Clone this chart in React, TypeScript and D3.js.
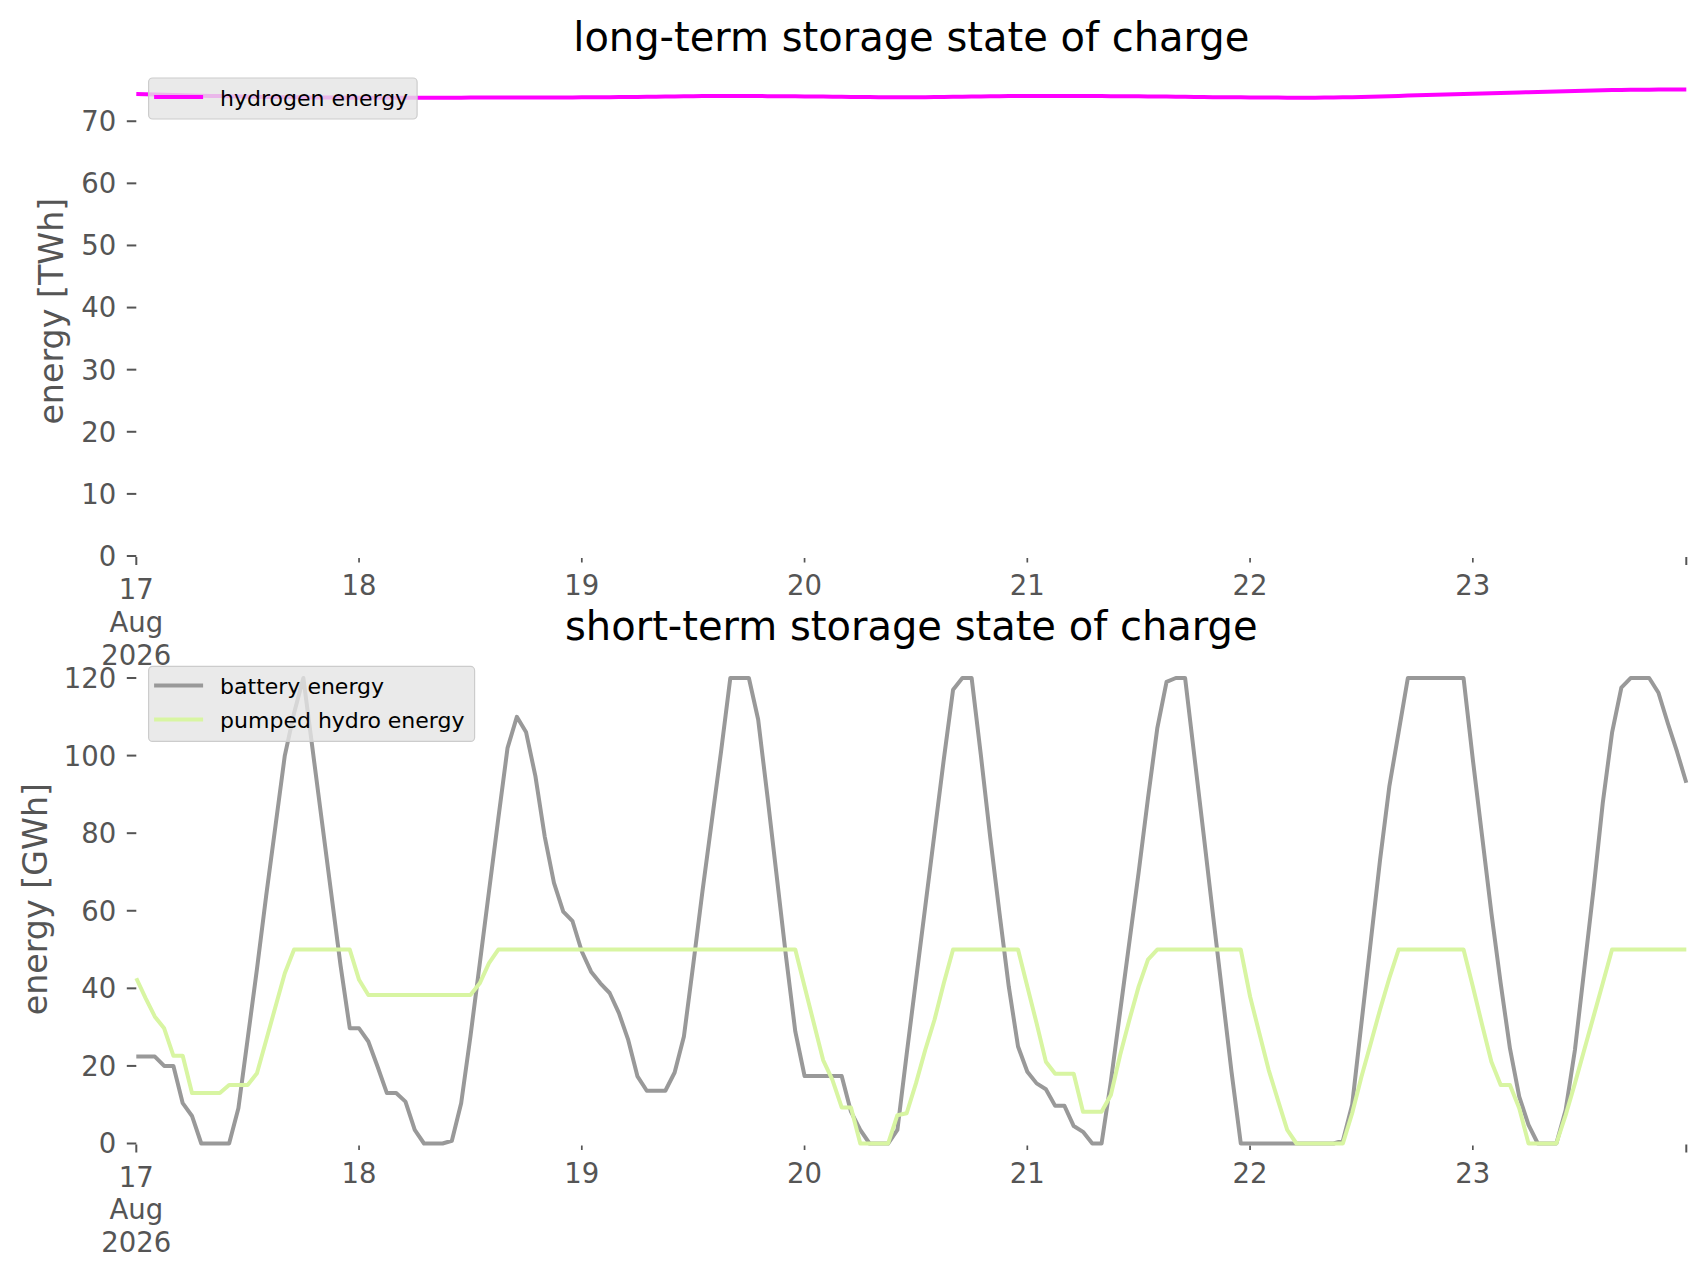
import React from "react";
import * as d3 from "d3";

// hourly values, 17 Aug 2026 00:00 .. 23 Aug 2026 23:00
const hydrogenTWh = [
  74.40, 74.36, 74.32, 74.28, 74.24, 74.20, 74.16, 74.12, 74.08, 74.05, 74.02, 73.99, 73.96, 73.94, 73.92, 73.90, 73.88, 73.86, 73.85, 73.84, 73.83, 73.82, 73.81, 73.80,
  73.80, 73.80, 73.79, 73.79, 73.79, 73.79, 73.80, 73.80, 73.80, 73.80, 73.80, 73.80, 73.81, 73.81, 73.81, 73.82, 73.82, 73.82, 73.82, 73.83, 73.83, 73.83, 73.84, 73.84,
  73.85, 73.86, 73.87, 73.88, 73.89, 73.90, 73.92, 73.94, 73.96, 73.98, 74.00, 74.02, 74.04, 74.05, 74.06, 74.07, 74.07, 74.07, 74.06, 74.05, 74.04, 74.03, 74.02, 74.01,
  74.00, 73.99, 73.97, 73.95, 73.93, 73.91, 73.90, 73.89, 73.88, 73.88, 73.87, 73.87, 73.87, 73.88, 73.89, 73.91, 73.93, 73.95, 73.97, 73.99, 74.01, 74.03, 74.05, 74.06,
  74.07, 74.07, 74.08, 74.08, 74.08, 74.07, 74.07, 74.06, 74.05, 74.04, 74.03, 74.02, 74.01, 74.00, 73.99, 73.97, 73.95, 73.93, 73.91, 73.89, 73.88, 73.87, 73.86, 73.85,
  73.84, 73.83, 73.82, 73.81, 73.80, 73.80, 73.80, 73.80, 73.81, 73.83, 73.85, 73.88, 73.91, 73.95, 73.99, 74.03, 74.08, 74.13, 74.18, 74.23, 74.27, 74.31, 74.35, 74.39,
  74.43, 74.47, 74.51, 74.55, 74.59, 74.64, 74.68, 74.72, 74.76, 74.80, 74.84, 74.88, 74.92, 74.95, 74.98, 75.01, 75.03, 75.05, 75.07, 75.08, 75.09, 75.09, 75.09, 75.09,
];

const batteryGWh = [
  22.4, 22.4, 22.4, 20.0, 20.0, 10.4, 7.1, 0, 0, 0, 0, 9.1, 27, 45, 64, 82, 100, 111, 120, 101.5, 83, 64.5, 46, 29.7,
  29.7, 26.3, 19.8, 13.0, 13.0, 10.8, 3.5, 0, 0, 0, 0.7, 10.4, 27.6, 46.3, 65, 83.7, 102, 110, 106, 94.7, 79.2, 67.2, 59.8, 57.3,
  49.5, 44.3, 41.3, 38.8, 33.6, 26.7, 17.3, 13.6, 13.6, 13.6, 18.3, 27.6, 46, 65, 83, 101, 120, 120, 120, 109.3, 89.5, 68.9, 48.2, 28.9,
  17.4, 17.4, 17.4, 17.4, 17.4, 8.2, 3.5, 0, 0, 0, 3.5, 23, 42, 61, 80, 99, 117, 120, 120, 100, 79, 59.4, 40.5, 25,
  18.5, 15.5, 14.0, 9.7, 9.7, 4.5, 3.0, 0, 0, 16, 34, 52, 70, 89, 107, 119, 120, 120, 99.8, 79.6, 59, 38.8, 18.5, 0,
  0, 0, 0, 0, 0, 0, 0, 0, 0, 0, 0.7, 10, 31, 52, 73, 92, 106, 120, 120, 120, 120, 120, 120, 120,
  99, 79.2, 59.4, 41.3, 24.5, 12.1, 4.8, 0, 0, 0, 8.6, 24.1, 44.8, 65.4, 87.8, 105.9, 117.5, 120, 120, 120, 116.2, 108.4, 101, 93,
];

const pumpedHydroGWh = [
  42.6, 37.5, 32.7, 29.7, 22.6, 22.6, 13, 13, 13, 13, 15.1, 15.1, 15.1, 18.1, 26.7, 35.3, 43.9, 50, 50, 50, 50, 50, 50, 50,
  42.2, 38.3, 38.3, 38.3, 38.3, 38.3, 38.3, 38.3, 38.3, 38.3, 38.3, 38.3, 38.3, 41.3, 46.5, 50, 50, 50, 50, 50, 50, 50, 50, 50,
  50, 50, 50, 50, 50, 50, 50, 50, 50, 50, 50, 50, 50, 50, 50, 50, 50, 50, 50, 50, 50, 50, 50, 50,
  40.5, 31, 21.5, 16.4, 9.3, 9.3, 0, 0, 0, 0, 7.3, 7.8, 15.5, 24.1, 31.9, 41.3, 50, 50, 50, 50, 50, 50, 50, 50,
  40.5, 31, 21.1, 18, 18, 18, 8.2, 8.2, 8.2, 12.5, 22.8, 31.9, 40.5, 47.4, 50, 50, 50, 50, 50, 50, 50, 50, 50, 50,
  37.9, 28.4, 19, 11.2, 3.5, 0, 0, 0, 0, 0, 0, 7.8, 17.2, 25.8, 34.5, 42.6, 50, 50, 50, 50, 50, 50, 50, 50,
  40.5, 30.6, 21.1, 15.1, 15.1, 9.1, 0, 0, 0, 0, 7.3, 15.5, 24.1, 32.7, 41.3, 50, 50, 50, 50, 50, 50, 50, 50, 50,
];

const longTicks = [0, 10, 20, 30, 40, 50, 60, 70];
const shortTicks = [0, 20, 40, 60, 80, 100, 120];

const startMs = Date.UTC(2026, 7, 17, 0);
const times = hydrogenTWh.map((_, i) => new Date(startMs + i * 3600 * 1000));

const FONT = "DejaVu Sans";
const TICK = "#555555";

const W = 1706;
const H = 1277;
const left = 136.3;
const right = 1686.3;

const x = d3.scaleUtc().domain([times[0], times[times.length - 1]]).range([left, right]);

interface Series {
  name: string;
  color: string;
  values: number[];
}

interface PanelProps {
  title: string;
  ylabel: string;
  top: number;
  bottom: number;
  ticks: number[];
  series: Series[];
  legendWidth: number;
  labelX: number;
}

const Panel: React.FC<PanelProps> = ({ title, ylabel, top, bottom, ticks, series, legendWidth, labelX }) => {
  const ymax = d3.max(series.flatMap((s) => s.values)) as number;
  const y = d3.scaleLinear().domain([0, ymax * 1.05]).range([bottom, top]);

  const days = d3.utcDay.range(times[0], times[times.length - 1]);
  const minorDays = days.slice(1);

  const legTop = top + 11.7;
  const legLeft = left + 12.3;
  const legH = 41 + (series.length - 1) * 34;

  return (
    <g>
      <text x={(left + right) / 2} y={top - 15} textAnchor="middle" fontSize={40} fontFamily={FONT} fill="#000">
        {title}
      </text>

      {/* y axis */}
      {ticks.map((t) => (
        <g key={t}>
          <line x1={left - 9.5} x2={left} y1={y(t)} y2={y(t)} stroke={TICK} strokeWidth={2} />
          <text x={left - 20} y={y(t)} dy="0.36em" textAnchor="end" fontSize={27.5} fontFamily={FONT} fill={TICK}>
            {t}
          </text>
        </g>
      ))}
      <text
        transform={`translate(${labelX},${(top + bottom) / 2}) rotate(-90)`}
        textAnchor="middle"
        fontSize={33.3}
        fontFamily={FONT}
        fill={TICK}
      >
        {ylabel}
      </text>

      {/* x axis */}
      {[times[0], times[times.length - 1]].map((d, i) => (
        <line key={i} x1={x(d)} x2={x(d)} y1={bottom + 1} y2={bottom + 9} stroke={TICK} strokeWidth={2} />
      ))}
      {minorDays.map((d, i) => (
        <line key={i} x1={x(d)} x2={x(d)} y1={bottom + 2} y2={bottom + 6.5} stroke={TICK} strokeWidth={1.7} />
      ))}
      {minorDays.map((d, i) => (
        <text key={i} x={x(d)} y={bottom + 39} textAnchor="middle" fontSize={27.5} fontFamily={FONT} fill={TICK}>
          {d3.utcFormat("%-d")(d)}
        </text>
      ))}
      <text x={x(days[0])} y={bottom + 43} textAnchor="middle" fontSize={27.5} fontFamily={FONT} fill={TICK}>
        <tspan x={x(days[0])}>{d3.utcFormat("%-d")(days[0])}</tspan>
        <tspan x={x(days[0])} dy={32.5}>{d3.utcFormat("%b")(days[0])}</tspan>
        <tspan x={x(days[0])} dy={33}>{d3.utcFormat("%Y")(days[0])}</tspan>
      </text>

      {/* lines */}
      {series.map((s) => {
        const line = d3
          .line<number>()
          .x((_, i) => x(times[i]))
          .y((v) => y(v));
        return (
          <path
            key={s.name}
            d={line(s.values) as string}
            fill="none"
            stroke={s.color}
            strokeWidth={4}
            strokeLinejoin="round"
          />
        );
      })}

      {/* legend */}
      <rect
        x={legLeft}
        y={legTop}
        width={legendWidth}
        height={legH}
        rx={4}
        fill="#e5e5e5"
        fillOpacity={0.8}
        stroke="#cccccc"
        strokeWidth={1.2}
      />
      {series.map((s, i) => {
        const cy = legTop + 19 + i * 34;
        return (
          <g key={s.name}>
            <line x1={legLeft + 5.5} x2={legLeft + 54.5} y1={cy} y2={cy} stroke={s.color} strokeWidth={4} />
            <text x={legLeft + 71.5} y={cy + 8.5} fontSize={22} fontFamily={FONT} fill="#000">
              {s.name}
            </text>
          </g>
        );
      })}
    </g>
  );
};

export default function App() {
  return (
    <svg
      width={W}
      height={H}
      viewBox={`0 0 ${W} ${H}`}
      style={{ position: "absolute", left: 0, top: 0, background: "#fff" }}
    >
      <rect width={W} height={H} fill="#fff" />
      <Panel
        title="long-term storage state of charge"
        ylabel="energy [TWh]"
        top={66.3}
        bottom={556}
        ticks={longTicks}
        series={[{ name: "hydrogen energy", color: "#ff00ff", values: hydrogenTWh }]}
        legendWidth={268.5}
        labelX={63}
      />
      <Panel
        title="short-term storage state of charge"
        ylabel="energy [GWh]"
        top={654.75}
        bottom={1143.5}
        ticks={shortTicks}
        series={[
          { name: "battery energy", color: "#999999", values: batteryGWh },
          { name: "pumped hydro energy", color: "#d8f5a2", values: pumpedHydroGWh },
        ]}
        legendWidth={326}
        labelX={46.5}
      />
    </svg>
  );
}
